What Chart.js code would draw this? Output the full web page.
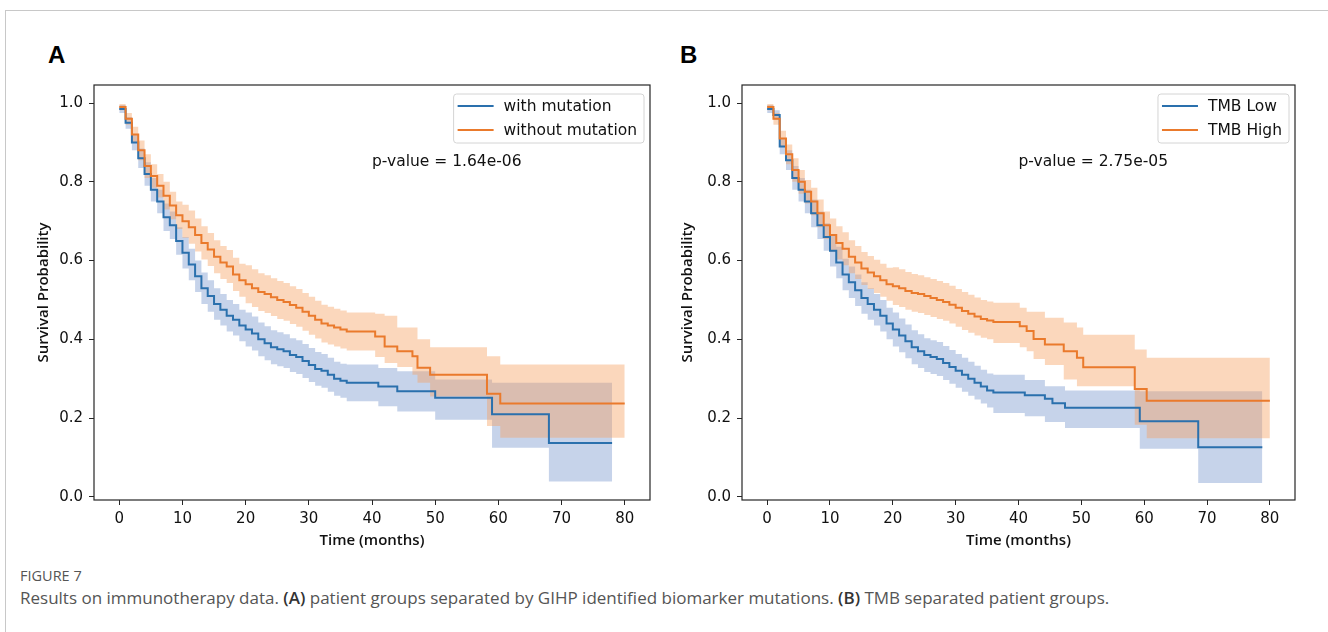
<!DOCTYPE html>
<html>
<head>
<meta charset="utf-8">
<script src="https://cdn.jsdelivr.net/npm/chart.js@4.4.1/dist/chart.umd.min.js"></script>
<style>
  body { margin: 0; width: 1328px; height: 632px; background: #fff; position: relative; overflow: hidden; }
  .frame { position: absolute; left: 5px; top: 10px; width: 1330px; height: 630px; border-top: 1px solid #c8c8c8; border-left: 1px solid #c8c8c8; }
  .letter { position: absolute; top: 43px; font-family: 'Liberation Sans', Arial, sans-serif; font-weight: bold; font-size: 24px; line-height: 24px; color: #000; }
  .panel { position: absolute; top: 62px; height: 490px; }
  .fig { position: absolute; left: 20px; top: 567px; font-family: 'Open Sans', sans-serif; font-size: 14.5px; line-height: 18px; color: #555; }
  .cap { position: absolute; left: 20px; top: 588px; font-family: 'Open Sans', sans-serif; font-size: 17px; line-height: 20px; color: #555; white-space: nowrap; }
  .cap b { color: #333; font-weight: 600; }
</style>
</head>
<body>
<div class="frame"></div>
<div class="letter" style="left:48px">A</div>
<div class="letter" style="left:680px">B</div>
<div class="panel" style="left:20px; width:640px"><canvas id="chartA"></canvas></div>
<div class="panel" style="left:668px; width:637px"><canvas id="chartB"></canvas></div>
<div class="fig">FIGURE 7</div>
<div class="cap">Results on immunotherapy data. <b>(A)</b> patient groups separated by GIHP identified biomarker mutations. <b>(B)</b> TMB separated patient groups.</div>

<script>
// axis ticks
const timeTicks = [0, 10, 20, 30, 40, 50, 60, 70, 80];
const probTicks = [0, 0.2, 0.4, 0.6, 0.8, 1.0];

// Panel A - with mutation (blue)
const timeA1 = [0,1,2,3,4,5,6,7,8,9,10,11,12,13,14,15,16,17,18,19,20,21,22,23,24,25,26,27,28,29,30,31,32,33,34,35,36,41,44,50,59,68,78];
const survA1 = [0.985,0.95,0.90,0.86,0.82,0.78,0.75,0.71,0.69,0.65,0.62,0.59,0.56,0.53,0.51,0.49,0.475,0.46,0.45,0.435,0.425,0.415,0.40,0.39,0.38,0.375,0.37,0.36,0.355,0.345,0.335,0.325,0.32,0.31,0.30,0.295,0.29,0.28,0.268,0.252,0.21,0.137,0.137];
const upA1 = [0.995,0.965,0.92,0.885,0.85,0.81,0.78,0.745,0.725,0.685,0.66,0.63,0.60,0.57,0.55,0.53,0.515,0.50,0.49,0.475,0.468,0.458,0.443,0.433,0.423,0.418,0.413,0.403,0.398,0.388,0.378,0.368,0.363,0.353,0.343,0.338,0.336,0.327,0.319,0.298,0.29,0.29,0.29];
const loA1 = [0.975,0.935,0.88,0.835,0.79,0.75,0.72,0.675,0.655,0.615,0.58,0.55,0.52,0.49,0.47,0.45,0.435,0.42,0.41,0.395,0.382,0.372,0.357,0.347,0.337,0.332,0.327,0.317,0.312,0.302,0.292,0.282,0.277,0.267,0.257,0.252,0.243,0.23,0.217,0.196,0.125,0.039,0.039];

// Panel A - without mutation (orange)
const timeA2 = [0,1,2,3,4,5,6,7,8,9,10,11,12,13,14,15,16,17,18,19,20,21,22,23,24,25,26,27,28,29,30,31,32,33,34,35,36,40.5,42,44,46.4,47.2,49.2,58.2,60.3,80];
const survA2 = [0.99,0.96,0.92,0.88,0.84,0.815,0.79,0.765,0.74,0.715,0.70,0.685,0.665,0.645,0.628,0.61,0.595,0.585,0.565,0.55,0.54,0.53,0.52,0.515,0.507,0.50,0.495,0.487,0.48,0.47,0.46,0.45,0.44,0.435,0.43,0.425,0.42,0.407,0.382,0.37,0.357,0.328,0.31,0.262,0.237,0.237];
const upA2 = [0.998,0.975,0.94,0.905,0.87,0.845,0.82,0.80,0.775,0.75,0.742,0.727,0.707,0.687,0.67,0.652,0.637,0.627,0.607,0.592,0.588,0.578,0.568,0.563,0.555,0.548,0.543,0.535,0.528,0.518,0.508,0.498,0.488,0.483,0.478,0.473,0.468,0.465,0.46,0.43,0.43,0.40,0.38,0.357,0.336,0.336];
const loA2 = [0.982,0.945,0.90,0.855,0.81,0.785,0.76,0.73,0.705,0.68,0.658,0.643,0.623,0.603,0.586,0.568,0.553,0.543,0.523,0.508,0.492,0.482,0.472,0.467,0.459,0.452,0.447,0.439,0.432,0.422,0.412,0.402,0.392,0.387,0.382,0.377,0.372,0.355,0.34,0.33,0.31,0.29,0.255,0.18,0.15,0.15];

// Panel B - TMB Low (blue)
const timeB1 = [0,1,2,3,4,5,6,7,8,9,10,11,12,13,14,15,16,17,18,19,20,21,22,23,24,25,26,27,28,29,30,31,32,33,34,35,36,41,44.2,45.4,47.4,59.3,68.6,78.8];
const survB1 = [0.985,0.97,0.89,0.855,0.81,0.78,0.75,0.72,0.69,0.66,0.625,0.595,0.565,0.545,0.525,0.505,0.49,0.475,0.46,0.44,0.425,0.41,0.395,0.38,0.37,0.36,0.355,0.35,0.34,0.33,0.32,0.31,0.30,0.29,0.28,0.27,0.265,0.258,0.249,0.238,0.226,0.192,0.126,0.126];
const upB1 = [0.995,0.982,0.91,0.88,0.84,0.81,0.78,0.755,0.725,0.695,0.665,0.635,0.605,0.585,0.565,0.545,0.53,0.515,0.50,0.48,0.468,0.453,0.438,0.423,0.413,0.403,0.398,0.393,0.383,0.373,0.363,0.353,0.343,0.333,0.323,0.313,0.31,0.297,0.281,0.281,0.27,0.268,0.268,0.268];
const loB1 = [0.975,0.958,0.87,0.83,0.78,0.75,0.72,0.685,0.655,0.625,0.585,0.555,0.525,0.505,0.485,0.465,0.45,0.435,0.42,0.40,0.382,0.367,0.352,0.337,0.327,0.317,0.312,0.307,0.297,0.287,0.277,0.267,0.257,0.247,0.237,0.227,0.213,0.205,0.19,0.19,0.175,0.122,0.035,0.035];

// Panel B - TMB High (orange)
const timeB2 = [0,1,2,3,4,5,6,7,8,9,10,11,12,13,14,15,16,17,18,19,20,21,22,23,24,25,26,27,28,29,30,31,32,33,34,35,36,40.2,41.3,42.4,44.2,47.2,49.3,50.3,58.5,60.4,80];
const survB2 = [0.99,0.96,0.91,0.87,0.83,0.80,0.775,0.75,0.72,0.69,0.665,0.645,0.63,0.61,0.595,0.58,0.57,0.56,0.55,0.54,0.535,0.53,0.523,0.518,0.515,0.51,0.505,0.50,0.495,0.488,0.48,0.472,0.465,0.458,0.452,0.448,0.444,0.433,0.421,0.401,0.387,0.37,0.353,0.329,0.274,0.244,0.244];
const upB2 = [0.998,0.975,0.93,0.895,0.86,0.83,0.805,0.785,0.755,0.725,0.707,0.687,0.672,0.652,0.637,0.622,0.612,0.602,0.592,0.582,0.583,0.578,0.571,0.566,0.563,0.558,0.553,0.548,0.543,0.536,0.528,0.52,0.513,0.506,0.50,0.496,0.493,0.48,0.47,0.47,0.455,0.443,0.43,0.412,0.374,0.353,0.353];
const loB2 = [0.982,0.945,0.89,0.845,0.80,0.77,0.745,0.715,0.685,0.655,0.623,0.603,0.588,0.568,0.553,0.538,0.528,0.518,0.508,0.498,0.487,0.482,0.475,0.47,0.467,0.462,0.457,0.452,0.447,0.44,0.432,0.424,0.417,0.41,0.404,0.40,0.391,0.38,0.37,0.35,0.335,0.298,0.281,0.281,0.183,0.149,0.149];

const namesA = ['with mutation', 'without mutation'];
const namesB = ['TMB Low', 'TMB High'];
const pValueA = 'p-value = 1.64e-06';
const pValueB = 'p-value = 2.75e-05';
const pValueAt = [40, 0.85];

const BLUE = '#2a70ad';
const ORANGE = '#ea7a2c';
const BLUE_BAND = 'rgba(120, 150, 205, 0.42)';
const ORANGE_BAND = 'rgba(245, 160, 95, 0.42)';
const FONT = "'DejaVu Sans', sans-serif";

Chart.defaults.font.family = FONT;
Chart.defaults.color = '#111';

function pts(t, v) {
    return t.map((x, i) => ({ x: x, y: v[i] }));
}

// spines, legend box and p-value text
const kmDecor = {
    id: 'kmDecor',
    afterDatasetsDraw(chart, args, opts) {
        const ctx = chart.ctx;
        const a = chart.chartArea;
        ctx.save();
        ctx.strokeStyle = '#262626';
        ctx.lineWidth = 1.2;
        ctx.strokeRect(a.left, a.top, a.right - a.left, a.bottom - a.top);

        // legend
        ctx.font = '15.5px ' + FONT;
        const w = Math.max(...opts.labels.map(s => ctx.measureText(s).width));
        const bw = 50 + w + 7, bh = 49;
        const bx = a.right - 6 - bw, by = a.top + 9;
        ctx.beginPath();
        ctx.roundRect(bx, by, bw, bh, 3);
        ctx.fillStyle = 'rgba(255,255,255,0.85)';
        ctx.fill();
        ctx.strokeStyle = '#d4d4d4';
        ctx.lineWidth = 1;
        ctx.stroke();
        ctx.textBaseline = 'middle';
        ctx.textAlign = 'left';
        opts.labels.forEach((lab, i) => {
            const y = by + 12 + i * 24;
            ctx.strokeStyle = opts.colors[i];
            ctx.lineWidth = 2;
            ctx.beginPath();
            ctx.moveTo(bx + 4, y);
            ctx.lineTo(bx + 40, y);
            ctx.stroke();
            ctx.fillStyle = '#111';
            ctx.fillText(lab, bx + 50, y + 1);
        });

        // p-value
        const px = chart.scales.x.getPixelForValue(opts.pAt[0]);
        const py = chart.scales.y.getPixelForValue(opts.pAt[1]);
        ctx.fillStyle = '#111';
        ctx.fillText(opts.pText, px, py);
        ctx.restore();
    }
};

function makeChart(id, names, s1, s2, pText, yTitlePad) {
    const line = (label, data, color) => ({
        label: label, data: data, borderColor: color, borderWidth: 2,
        stepped: true, pointRadius: 0, fill: false, order: 0
    });
    const band = (data, fill, color) => ({
        label: '', data: data, borderColor: 'rgba(0,0,0,0)', borderWidth: 0,
        backgroundColor: color, stepped: true, pointRadius: 0, fill: fill, order: 1
    });
    const titleFont = { family: "'Open Sans', sans-serif", size: 15, weight: '600' };
    return new Chart(document.getElementById(id), {
        type: 'line',
        data: {
            datasets: [
                line(names[1], pts(s2.t, s2.s), ORANGE),
                line(names[0], pts(s1.t, s1.s), BLUE),
                band(pts(s2.t, s2.u), '+1', ORANGE_BAND),
                band(pts(s2.t, s2.l), false, ORANGE_BAND),
                band(pts(s1.t, s1.u), '+1', BLUE_BAND),
                band(pts(s1.t, s1.l), false, BLUE_BAND)
            ]
        },
        options: {
            responsive: true,
            maintainAspectRatio: false,
            animation: false,
            layout: { padding: { left: 0, top: 23, right: 10, bottom: 0 } },
            scales: {
                x: {
                    type: 'linear',
                    min: -4,
                    max: 84,
                    afterBuildTicks: axis => { axis.ticks = timeTicks.map(v => ({ value: v })); },
                    afterFit: axis => { axis.height = 52; },
                    grid: { display: true, drawOnChartArea: false, drawTicks: true, tickLength: 5, color: '#262626' },
                    border: { display: false },
                    ticks: { font: { size: 15 }, color: '#111', padding: 5, maxRotation: 0 },
                    title: { display: true, text: 'Time (months)', font: titleFont, color: '#111', padding: { top: 0, bottom: 2 } }
                },
                y: {
                    min: -0.008,
                    max: 1.046,
                    afterBuildTicks: axis => { axis.ticks = probTicks.map(v => ({ value: v })); },
                    afterFit: axis => { axis.width = 74; },
                    grid: { display: true, drawOnChartArea: false, drawTicks: true, tickLength: 5, color: '#262626' },
                    border: { display: false },
                    ticks: { font: { size: 15 }, color: '#111', padding: 6, callback: v => v.toFixed(1) },
                    title: { display: true, text: 'Survival Probability', font: titleFont, color: '#111', padding: { top: yTitlePad, bottom: 0 } }
                }
            },
            plugins: {
                legend: { display: false },
                tooltip: { enabled: false },
                kmDecor: { labels: names, colors: [BLUE, ORANGE], pText: pText, pAt: pValueAt }
            }
        },
        plugins: [kmDecor]
    });
}

makeChart('chartA', namesA,
    { t: timeA1, s: survA1, u: upA1, l: loA1 },
    { t: timeA2, s: survA2, u: upA2, l: loA2 },
    pValueA, 15);

makeChart('chartB', namesB,
    { t: timeB1, s: survB1, u: upB1, l: loB1 },
    { t: timeB2, s: survB2, u: upB2, l: loB2 },
    pValueB, 11);
</script>
</body>
</html>
